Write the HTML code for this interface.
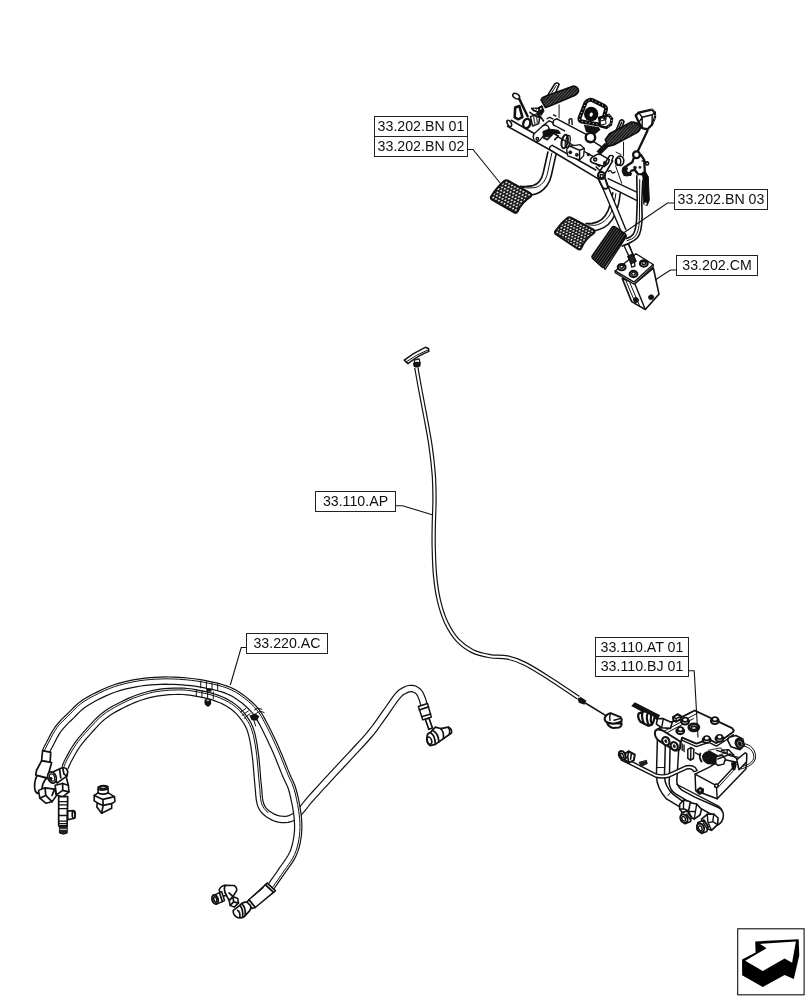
<!DOCTYPE html>
<html>
<head>
<meta charset="utf-8">
<title>Parts diagram</title>
<style>
html,body{margin:0;padding:0;background:#fff;}
body{width:812px;height:1000px;overflow:hidden;position:relative;font-family:"Liberation Sans",sans-serif;}
svg{position:absolute;left:0;top:0;display:block;}
.lbl{will-change:transform;position:absolute;box-sizing:border-box;border:1px solid #222;background:#fff;color:#111;font-family:"Liberation Sans",sans-serif;font-size:14.2px;line-height:18px;text-align:center;white-space:nowrap;padding:0;}
.s{fill:none;stroke:#111;stroke-width:1.4;stroke-linecap:round;stroke-linejoin:round;}
.t{fill:none;stroke:#111;stroke-width:1;stroke-linecap:round;stroke-linejoin:round;}
.w{fill:#fff;stroke:#111;stroke-width:1.4;stroke-linecap:round;stroke-linejoin:round;}
.k{fill:#111;stroke:#111;stroke-width:0.6;stroke-linejoin:round;}
.ns *{vector-effect:non-scaling-stroke;}
.hf .w,.hf .s{stroke-width:1.7;}
.ld{fill:none;stroke:#111;stroke-width:1.1;}
</style>
</head>
<body>
<svg width="812" height="1000" viewBox="0 0 812 1000">
<!-- PEDALS -->
<g id="pedals">
<defs>
<pattern id="padA" width="1" height="2" patternUnits="userSpaceOnUse" patternTransform="matrix(2.83,1.57,-2.2,2.54,506.1,180.2)">
<rect width="1" height="2" fill="#151515"/><circle cx="0.5" cy="0.5" r="0.31" fill="#fff"/><circle cx="0" cy="1.5" r="0.31" fill="#fff"/><circle cx="1" cy="1.5" r="0.31" fill="#fff"/>
</pattern>
<pattern id="padB" width="1" height="2" patternUnits="userSpaceOnUse" patternTransform="matrix(2.83,1.51,-2.04,2.2,569.2,217.2)">
<rect width="1" height="2" fill="#151515"/><circle cx="0.5" cy="0.5" r="0.31" fill="#fff"/><circle cx="0" cy="1.5" r="0.31" fill="#fff"/><circle cx="1" cy="1.5" r="0.31" fill="#fff"/>
</pattern>
<pattern id="padC" width="1.5" height="10" patternUnits="userSpaceOnUse" patternTransform="matrix(1.24,0.81,-2.24,3.29,613.4,226.5)">
<rect width="1.5" height="10" fill="#0c0c0c"/><rect x="0" width="0.35" height="10" fill="#777"/>
</pattern>
<pattern id="coil" width="11" height="30" patternUnits="userSpaceOnUse" patternTransform="rotate(-24)">
<rect width="11" height="30" fill="#0c0c0c"/><rect width="2.6" height="30" fill="#a8a8a8"/>
</pattern>
</defs>
<!-- G1 : origin 500,75 -->
<g transform="translate(500,75) scale(0.12438)" class="ns">
<!-- front tube A -->
<path class="s" d="M60,412 L400,601 L790,835" style="stroke-width:1.6"/>
<path class="s" d="M90,364 L275,470" style="stroke-width:1.6"/>
<ellipse class="w" cx="75" cy="389" rx="15" ry="28" transform="rotate(-30 75 389)" style="stroke-width:1.6"/>
<!-- tube B collar and top edge -->
<path class="s" d="M420,566 L770,764" style="stroke-width:1.5"/>
<path class="s" d="M420,566 Q395,572 398,600"/>
<!-- rear tube -->
<path class="s" d="M457,352 L700,482"/>
<path class="s" d="M432,402 L520,450"/>
<path class="s" d="M457,352 Q430,355 425,380 Q422,400 440,408" style="stroke-width:1.3"/>
<path class="s" d="M470,500 L812,690"/>
<!-- connector top-left -->
<ellipse class="w" cx="130" cy="170" rx="30" ry="19" transform="rotate(32 130 170)" style="stroke-width:1.5"/>
<path class="s" d="M155,192 L222,332" style="stroke-width:2.4"/>
<path class="w" d="M122,262 L156,250 L180,338 L146,356 L118,340 Z" style="stroke-width:2.6"/>
<ellipse class="s" cx="215" cy="390" rx="28" ry="38" transform="rotate(15 215 390)" style="stroke-width:2.4"/><path class="w" d="M245,335 L300,312 L318,345 L312,390 L262,410 Z" style="stroke-width:1.5"/><path class="s" d="M268,328 L282,400 M290,318 L302,392" style="stroke:#555"/>
<!-- spring 1 -->
<path d="M365,262 L330,200 Q335,180 360,172 L590,88 Q625,90 632,125 Q630,150 600,165 L400,250 Z" fill="url(#coil)" stroke="#0c0c0c" stroke-width="1.6"/>
<path class="s" d="M385,160 L440,72 Q460,55 475,75 L450,135" style="stroke-width:1.6"/>
<path class="s" d="M405,160 L452,85" style="stroke-width:1"/>
<!-- bracket blob under spring -->
<path d="M250,266 L300,266 L338,246 L354,290 L332,324 L300,298 L266,288 Z" fill="#111" stroke="#111"/><circle cx="300" cy="282" r="8" fill="#fff"/><circle cx="328" cy="272" r="7" fill="#fff"/><path d="M272,272 L290,280" stroke="#fff" stroke-width="1" fill="none"/>
<path class="s" d="M240,300 L275,325 L330,345 M300,300 L350,370" style="stroke-width:1.6"/>
<path class="t" d="M475,240 L475,345"/>
<path class="s" d="M378,352 L398,340 L425,352 M430,320 L450,330" style="stroke-width:1.3"/>
<!-- pin -->
<path class="s" d="M556,392 L556,358 Q566,348 578,355 L580,398"/>
<!-- link plate -->
<path class="w" d="M268,505 Q262,480 285,462 L345,408 Q365,395 385,410 L395,430 L325,520 Q300,545 275,528 Z" style="stroke-width:1.3"/>
<circle class="s" cx="300" cy="512" r="10"/>
<path class="s" d="M345,408 L395,368 L430,385"/>
<!-- clip cluster -->
<path d="M345,455 L395,435 L470,445 L485,470 L430,468 L395,495 L350,500 Z" fill="#111" stroke="#111"/>
<path class="s" d="M350,505 L380,520 L420,480 M430,470 L470,490 L440,520" style="stroke-width:1.6"/>
<!-- clamp ring -->
<ellipse class="s" cx="520" cy="535" rx="24" ry="55" transform="rotate(12 520 535)" style="stroke-width:2"/>
<ellipse class="s" cx="545" cy="535" rx="18" ry="50" transform="rotate(12 545 535)" style="stroke-width:1.3"/>
<!-- small box -->
<path class="w" d="M535,598 L560,572 L645,560 L678,590 L672,650 L640,682 L545,650 Z" style="stroke-width:1.3"/>
<path class="s" d="M560,572 L640,605 L678,590 M640,605 L640,682"/>
<circle class="k" cx="565" cy="622" r="13"/><circle class="k" cx="618" cy="642" r="13"/>
<circle class="k" cx="710" cy="640" r="11"/>
<circle class="s" cx="770" cy="672" r="20" style="stroke-width:1.8"/><circle class="k" cx="770" cy="672" r="7"/>
<path class="s" d="M730,690 L800,735" style="stroke-width:1.5"/>
</g>
<!-- G2 : origin 580,75 -->
<g transform="translate(580,75) scale(0.12438)" class="ns">
<!-- sensor -->
<path d="M72,202 Q86,195 100,202 L196,250 Q214,262 208,280 L182,380 Q174,402 152,398 L14,374 Q-8,366 -4,346 L44,224 Q54,205 72,202 Z" fill="#fff" stroke="#0c0c0c" stroke-width="4"/>
<path d="M72,202 Q86,195 100,202 L196,250 Q214,262 208,280 L182,380 Q174,402 152,398 L14,374 Q-8,366 -4,346 L44,224 Q54,205 72,202 Z" fill="none" stroke="#fff" stroke-width="1" stroke-dasharray="0.1 3.6" stroke-linecap="round"/>
<circle cx="90" cy="314" r="58" fill="#0c0c0c"/><ellipse cx="90" cy="318" rx="13" ry="17" fill="#fff" transform="rotate(20 90 318)"/>
<path d="M155,345 L230,322 L256,352 L248,398 L212,424 L166,412 Z" fill="#fff" stroke="#0c0c0c" stroke-width="2.8"/>
<path d="M230,322 L256,352 L248,398 L212,424" fill="none" stroke="#fff" stroke-width="0.9" stroke-dasharray="0.1 3.2" stroke-linecap="round"/>
<path d="M160,372 L205,360 L210,392 L168,404Z" fill="#fff" stroke="#0c0c0c" stroke-width="1"/>
<rect x="186" y="332" width="28" height="28" fill="#111"/>
<path d="M30,398 L150,418 L165,440 L125,474 L48,458 Z" fill="#111"/>
<path d="M30,398 L150,418" fill="none" stroke="#fff" stroke-width="0.8" stroke-dasharray="0.1 3" stroke-linecap="round"/>
<circle cx="84" cy="503" r="38" class="w" style="stroke-width:2.4"/>
<path class="s" d="M62,530 L100,540"/>
<path class="s" d="M112,538 L175,578"/>
<!-- spring 2 -->
<path d="M203,520 L238,472 L412,378 Q465,378 488,418 Q484,450 455,465 L272,562 L225,574 Z" fill="url(#coil)" stroke="#0c0c0c" stroke-width="1.6"/>
<path class="s" d="M290,447 L322,368 Q340,350 354,375 L335,425" style="stroke-width:1.6"/>
<path class="s" d="M308,440 L335,380"/>
<path d="M200,545 L235,572 L165,642 L132,616 Z" fill="#111"/>
<!-- switch -->
<path class="w" d="M448,325 L472,302 L578,278 L602,302 L603,340 L578,400 L540,438 L502,427 L473,383 Z" style="stroke-width:2.3"/><path d="M578,278 L602,302 L603,340 L578,400" fill="none" stroke="#fff" stroke-width="0.9" stroke-dasharray="0.1 3.4" stroke-linecap="round"/>
<path class="s" d="M470,385 L500,340 L580,320 L605,300 M500,340 L500,430 M580,320 L580,402"/>
<path class="s" d="M470,300 L500,340" />
<!-- link rod -->
<path class="s" d="M543,446 L462,618" style="stroke-width:2.3"/>
<!-- bracket -->
<path class="w" d="M432,668 L420,702 L352,745 Q335,772 357,802 L382,806 L402,772 L440,762 L470,802 L522,792 L516,682 L490,642 Z" style="stroke-width:2.3"/>
<circle class="w" cx="454" cy="641" r="27" style="stroke-width:2.3"/>
<path d="M345,750 Q340,800 372,812 L410,812 L420,790 L395,770 L380,740 Z" fill="#111"/>
<circle cx="392" cy="768" r="12" fill="#fff"/>
<circle cx="442" cy="745" r="12" class="k"/><circle cx="482" cy="742" r="9" class="k"/>
<circle cx="540" cy="712" r="12" class="s" style="stroke-width:1.5"/>
<path class="s" d="M500,690 L545,700"/>
<!-- plate left -->
<path class="w" d="M85,692 Q80,670 100,660 L135,640 Q150,632 167,640 L236,680 L228,706 L195,736 L100,706 Z" style="stroke-width:1.6"/>
<circle cx="122" cy="680" r="12" class="s" style="stroke-width:1.6"/>
<circle cx="200" cy="707" r="13" class="k"/>
<!-- pivot boss -->
<ellipse class="w" cx="322" cy="690" rx="30" ry="38" style="stroke-width:1.6"/>
<ellipse class="s" cx="306" cy="696" rx="22" ry="30"/>
<path class="t" d="M290,620 L330,640 M350,540 L350,652"/>
<path class="s" d="M238,650 Q255,640 268,655 L255,690" style="stroke-width:1.4"/>
<!-- link to pivot -->
<path class="s" d="M150,790 L236,652 M197,802 L262,690" style="stroke-width:1.6"/>
<path class="s" d="M228,775 Q245,760 255,780 Q265,795 282,780" />
<path class="t" d="M286,730 L335,870"/>
<path class="s" d="M130,740 L160,770" style="stroke-width:1.5"/>
</g>
<!-- arm 1 (real coords) -->
<path class="s" style="stroke-width:1.6" d="M547.9,152 L543.2,173 C541.8,179 538.5,184 533,185.6 C529,186.6 525,186.6 520.5,186.2"/>
<path class="t" d="M551.8,153.2 L547.2,174.5 C545.5,181 541,186 536,187.3 C531,188.4 527,188 522.3,187.4"/>
<path class="s" style="stroke-width:1.6" d="M556,154.6 L551.2,176 C549.5,183 545,189 539.7,192.2 C537,193.8 534,194.6 531.6,194.9"/>
<!-- G5 : origin 540,150 -->
<g transform="translate(540,150) scale(0.12438)" class="ns">
<path class="s" d="M548,230 L778,338 M533,282 L776,405"/>
<!-- arm 2 -->
<path class="s" style="stroke-width:1.6" d="M585,345 C578,400 565,445 548,485 C525,540 480,580 420,590 L370,592"/>
<path class="t" d="M610,350 C603,410 590,455 572,500 C548,555 500,595 440,606 L390,602"/>
<path class="s" style="stroke-width:1.6" d="M645,350 C637,420 625,470 605,515 C580,575 530,625 470,642 L440,650"/>
<!-- accelerator rod -->
<path d="M478,250 L510,320 L652,655 L690,640 L550,300 L528,238 Z" fill="#fff" stroke="none"/><path class="s" d="M478,250 L510,320 L652,655 M528,238 L550,300 L690,640"/>
<path class="s" d="M682,770 L716,852 M716,762 L748,842"/>
<!-- pivot -->
<circle class="w" cx="494" cy="205" r="28" style="stroke-width:2.2"/>
<circle class="s" cx="496" cy="210" r="13"/>
<path class="s" d="M468,230 L505,302 Q525,322 547,302 L522,225" style="stroke-width:1.8"/>
</g>
<!-- G3 : origin 580,199 -->
<g transform="translate(580,199) scale(0.12438)" class="ns">
<!-- cylinder body -->
<path class="w" d="M340,640 L415,825 L525,888 L635,765 L590,555 L440,680 Z" style="stroke-width:1.6"/>
<path class="s" d="M440,680 L525,888"/>
<path class="t" d="M370,660 L450,848 M400,672 L482,865"/>
<ellipse cx="450" cy="812" rx="22" ry="20" class="k" transform="rotate(30 450 812)"/>
<ellipse cx="572" cy="790" rx="22" ry="20" class="k" transform="rotate(-20 572 790)"/>
<!-- top plate -->
<path class="w" d="M283,578 L283,592 L435,685 L588,545 L588,527 L450,440 Z" style="stroke-width:1.3"/>
<path class="s" d="M283,578 L435,668 L588,527"/>
<g style="stroke-width:1.5">
<ellipse class="w" cx="335" cy="548" rx="31" ry="25" style="stroke-width:2.2"/><ellipse class="s" cx="335" cy="545" rx="15" ry="12"/>
<ellipse class="w" cx="430" cy="603" rx="31" ry="25" style="stroke-width:2.2"/><ellipse class="s" cx="430" cy="600" rx="15" ry="12"/>
<ellipse class="w" cx="513" cy="518" rx="31" ry="25" style="stroke-width:2.2"/><ellipse class="s" cx="513" cy="515" rx="15" ry="12"/>
</g>
<!-- fitting on rod -->
<path class="w" d="M352,372 L398,468 L428,455 L388,362 Z" style="stroke-width:1.3"/>
<path d="M385,462 L425,442 L450,500 L410,520 Z" fill="#222" stroke="#111" stroke-width="1.4"/>
<path class="w" d="M410,520 L416,548 L442,540 L438,508 Z" style="stroke-width:1.3"/>
<!-- pad3 side -->
<path class="s" d="M365,285 L372,302 L202,566 L195,550"/>
</g>
<!-- G6 : origin 590,150 -->
<g transform="translate(590,150) scale(0.12562)" class="ns">
<!-- right arm -->
<path class="w" d="M372,205 L376,420 L372,517 Q370,600 343,673 L295,704 L250,764 L331,733 Q395,700 406,638 L415,530 L412,420 L420,245 L400,200 Z" style="stroke:none"/>
<path class="s" d="M372,205 L376,420 L372,517 Q372,620 343,673 Q325,695 290,704" style="stroke-width:1.6"/>
<path class="t" d="M396,235 L393,560 Q390,650 358,690 Q335,712 295,722"/>
<path class="s" d="M420,245 L412,420 L415,530 Q412,660 379,697 Q345,735 255,764" style="stroke-width:1.6"/>
<!-- damper -->
<path d="M418,178 L440,172 L464,212 L472,400 L455,442 L428,432 L424,250 Z" fill="#0c0c0c" stroke="#0c0c0c"/>
<circle cx="442" cy="428" r="10" fill="#fff"/>
</g>
<!-- pads in real coords -->
<path d="M508,180.6 L529.8,192.9 Q532.4,194.4 531,196.4 Q521.5,202.5 517.6,211.6 Q516.2,213.8 514,212.4 L492,199.7 Q489.8,198.2 491.2,196.2 Q497,187 504.4,180.8 Q506,179.5 508,180.6 Z" fill="url(#padA)" stroke="#111" stroke-width="1.9"/>
<path d="M571,217.6 L593,229.4 Q595.6,230.9 594.2,233 Q585,239 581.3,248.2 Q580,250.4 577.8,249 L556.2,234.4 Q554,232.9 555.5,230.9 Q561,223 567.5,217.8 Q569,216.5 571,217.6 Z" fill="url(#padB)" stroke="#111" stroke-width="1.9"/>
<path d="M614.6,226.6 L625,233.4 Q626.6,234.6 625.6,236.4 L604.8,266.6 Q603.6,268.2 601.8,267 L592.6,258.6 Q591.2,257.2 592.4,255.4 L612,227.2 Q613.2,225.8 614.6,226.6 Z" fill="url(#padC)" stroke="#0c0c0c" stroke-width="1.2"/>
</g>
<!-- CABLE -->
<g id="cable">
<path d="M416.3,367.5 C416.9,370.9 418.4,379.6 419.9,387.8 C421.4,396.0 423.6,407.1 425.4,416.7 C427.2,426.3 429.1,435.9 430.5,445.6 C431.9,455.3 433.1,465.9 433.8,475.0 C434.4,484.1 434.5,491.7 434.5,500.0 C434.5,508.3 433.9,516.7 433.8,525.0 C433.6,533.3 433.5,541.7 433.8,550.0 C434.0,558.3 434.2,566.7 435.0,575.0 C435.8,583.3 436.9,592.1 438.8,600.0 C440.6,607.9 443.1,615.8 446.2,622.5 C449.4,629.2 453.1,635.2 457.5,640.0 C461.9,644.8 467.1,648.5 472.5,651.2 C477.9,654.0 484.2,655.2 490.0,656.2 C495.8,657.3 501.7,656.2 507.5,657.5 C513.3,658.8 517.9,660.2 525.0,663.8 C532.1,667.3 541.1,673.1 550.0,678.8 C558.9,684.4 573.8,694.6 578.5,697.8" fill="none" stroke="#111" stroke-width="4.4"/>
<path d="M416.3,367.5 C416.9,370.9 418.4,379.6 419.9,387.8 C421.4,396.0 423.6,407.1 425.4,416.7 C427.2,426.3 429.1,435.9 430.5,445.6 C431.9,455.3 433.1,465.9 433.8,475.0 C434.4,484.1 434.5,491.7 434.5,500.0 C434.5,508.3 433.9,516.7 433.8,525.0 C433.6,533.3 433.5,541.7 433.8,550.0 C434.0,558.3 434.2,566.7 435.0,575.0 C435.8,583.3 436.9,592.1 438.8,600.0 C440.6,607.9 443.1,615.8 446.2,622.5 C449.4,629.2 453.1,635.2 457.5,640.0 C461.9,644.8 467.1,648.5 472.5,651.2 C477.9,654.0 484.2,655.2 490.0,656.2 C495.8,657.3 501.7,656.2 507.5,657.5 C513.3,658.8 517.9,660.2 525.0,663.8 C532.1,667.3 541.1,673.1 550.0,678.8 C558.9,684.4 573.8,694.6 578.5,697.8" fill="none" stroke="#fff" stroke-width="2"/>
<!-- handle : tile origin 380,335 -->
<g transform="translate(380,335) scale(0.12562)" class="ns">
<path class="w" d="M272,200 L312,190 L318,222 L278,232 Z" style="stroke-width:1.2"/>
<path d="M262,222 Q290,208 325,218 L322,250 Q290,262 268,252 Z" fill="#111"/>
<path class="w" d="M193,200 Q270,140 360,98 L386,108 L389,130 Q300,165 222,228 Z" style="stroke-width:1.5"/>
<path class="t" d="M208,214 Q290,156 378,120"/>
</g>
<!-- cable end : tile origin 560,680 -->
<g transform="translate(560,680) scale(0.12562)" class="ns">
<path d="M140,150 L165,135 L210,165 L195,198 L150,182 Z" fill="#111"/>
<path class="s" d="M205,185 L372,287" style="stroke-width:1.5"/>
<path class="w" d="M356,302 Q366,272 402,264 L482,296 Q494,308 490,330 L442,346 Q400,352 372,336 Q352,322 356,302 Z" style="stroke-width:2"/>
<path class="w" d="M374,338 Q380,368 422,382 L472,378 Q494,366 490,344 L442,346 Q400,352 374,338Z" style="stroke-width:2"/>
<path class="s" d="M402,264 Q392,290 398,322 M430,320 L486,306" style="stroke-width:1.4"/>
</g>
</g>
<!-- HOSES -->
<g id="hoses" class="hf">
<!-- hose B -->
<path d="M62.0,766.6 L62.4,765.7 L62.8,764.5 L63.5,762.9 L64.3,760.9 L65.5,758.7 L66.9,756.1 L68.5,753.1 L70.4,749.8 L72.4,746.5 L74.5,743.4 L76.5,740.6 L78.6,737.9 L80.8,735.3 L83.1,732.7 L85.6,729.9 L88.4,726.7 L91.5,723.4 L94.7,719.9 L98.2,716.5 L101.8,713.4 L105.6,710.6 L109.5,708.1 L113.4,705.8 L117.4,703.7 L121.3,701.7 L125.1,699.9 L128.9,698.1 L132.8,696.5 L136.6,695.0 L140.5,693.7 L144.3,692.5 L148.1,691.5 L151.9,690.6 L155.9,689.8 L160.0,689.2 L164.4,688.7 L169.0,688.3 L173.8,688.1 L178.5,688.0 L183.2,688.1 L187.7,688.5 L192.2,689.0 L196.6,689.8 L200.7,690.6 L204.6,691.4 L208.2,692.2 L211.5,693.1 L214.7,694.0 L217.8,695.1 L220.8,696.2 L223.8,697.5 L226.6,698.9 L229.4,700.4 L232.1,702.1 L234.7,703.9 L237.2,705.9 L239.6,708.0 L241.8,710.3 L244.0,712.7 L246.0,715.3 L247.8,717.9 L249.6,720.6 L251.2,723.5 L252.7,726.9 L254.1,730.6 L255.2,734.9 L256.2,739.6 L257.1,744.6 L257.8,749.8 L258.6,755.1 L259.2,760.9 L259.8,767.0 L260.3,773.3 L260.7,779.3 L261.3,784.7 L261.8,789.7 L262.1,794.3 L262.5,798.5 L263.2,802.0 L264.2,804.9 L265.6,807.3 L267.4,809.4 L269.6,811.3 L272.0,812.8 L274.4,814.1 L276.8,815.1 L279.4,815.8 L282.1,816.2 L284.7,816.3 L287.0,816.1 L288.9,815.6 L290.7,814.8 L292.5,813.7 L294.5,812.2 L296.6,810.4 L298.7,808.3 L300.6,805.9 L302.9,803.0 L305.6,799.6 L309.0,795.6 L313.2,791.0 L317.9,785.8 L323.1,780.2 L328.5,774.3 L334.2,768.2 L340.3,761.6 L347.1,754.4 L353.9,747.0 L360.3,740.2 L365.5,734.3 L369.3,729.7 L372.2,726.0 L374.5,722.8 L376.8,719.6 L379.4,715.9 L382.4,711.7 L385.7,707.0 L388.9,702.4 L391.9,698.1 L394.5,694.7 L396.6,692.2 L398.4,690.5 L400.1,689.3 L401.5,688.4 L403.0,687.6 L404.7,686.7 L406.6,686.0 L408.5,685.5 L410.4,685.3 L412.3,685.3 L414.2,685.7 L416.1,686.3 L417.8,687.2 L419.3,688.2 L420.8,689.5 L422.0,691.0 L423.0,692.6 L423.8,694.2 L424.4,695.7 L425.0,697.2 L425.6,698.7 L426.1,700.4 L426.5,702.0 L426.8,703.3 L427.1,704.2 L420.9,705.8 L420.7,704.9 L420.3,703.6 L419.9,702.2 L419.5,700.8 L419.0,699.4 L418.5,698.1 L417.9,696.8 L417.4,695.6 L416.8,694.6 L416.2,693.9 L415.5,693.3 L414.6,692.7 L413.6,692.2 L412.6,691.9 L411.7,691.7 L410.8,691.7 L409.7,691.8 L408.5,692.1 L407.3,692.6 L406.0,693.2 L404.7,693.9 L403.7,694.5 L402.7,695.3 L401.3,696.6 L399.5,698.7 L397.0,701.9 L394.1,706.0 L390.9,710.6 L387.7,715.3 L384.6,719.7 L382.0,723.3 L379.7,726.5 L377.3,729.9 L374.3,733.8 L370.3,738.5 L365.0,744.5 L358.6,751.4 L351.8,758.7 L345.0,766.0 L338.8,772.6 L333.2,778.7 L327.8,784.6 L322.6,790.2 L317.9,795.3 L313.8,799.8 L310.5,803.7 L307.9,807.0 L305.6,809.9 L303.4,812.6 L301.0,815.0 L298.5,817.2 L296.2,819.0 L293.7,820.5 L291.0,821.7 L288.0,822.4 L284.8,822.7 L281.5,822.6 L278.1,822.1 L274.8,821.2 L271.6,819.9 L268.7,818.3 L265.8,816.4 L263.0,814.0 L260.4,811.1 L258.3,807.6 L257.0,803.6 L256.2,799.3 L255.7,794.9 L255.4,790.2 L254.9,785.3 L254.4,779.8 L253.9,773.8 L253.4,767.6 L252.9,761.5 L252.2,755.9 L251.5,750.7 L250.8,745.6 L249.9,740.8 L249.0,736.4 L247.9,732.6 L246.8,729.2 L245.5,726.4 L244.1,723.9 L242.5,721.5 L240.8,719.1 L239.0,716.8 L237.2,714.7 L235.2,712.7 L233.1,710.8 L230.9,709.1 L228.6,707.4 L226.2,706.0 L223.7,704.6 L221.1,703.3 L218.4,702.2 L215.6,701.1 L212.8,700.1 L209.8,699.2 L206.7,698.4 L203.2,697.6 L199.4,696.8 L195.4,696.1 L191.3,695.4 L187.0,694.8 L182.8,694.5 L178.5,694.4 L174.0,694.5 L169.5,694.7 L165.0,695.1 L160.8,695.6 L156.9,696.2 L153.2,696.8 L149.7,697.7 L146.1,698.6 L142.5,699.7 L138.8,701.0 L135.2,702.4 L131.5,704.0 L127.8,705.6 L124.1,707.5 L120.4,709.4 L116.6,711.4 L112.8,713.6 L109.2,715.9 L105.8,718.4 L102.5,721.2 L99.3,724.4 L96.2,727.7 L93.2,731.0 L90.4,734.1 L87.9,736.9 L85.6,739.5 L83.6,741.9 L81.6,744.4 L79.7,747.0 L77.8,749.9 L75.9,753.0 L74.1,756.2 L72.5,759.2 L71.1,761.7 L70.1,763.7 L69.4,765.4 L68.8,766.8 L68.3,768.0 L68.0,769.0 Z" fill="#fff" stroke="none"/>
<path d="M62.0,766.6 L62.4,765.7 L62.8,764.5 L63.5,762.9 L64.3,760.9 L65.5,758.7 L66.9,756.1 L68.5,753.1 L70.4,749.8 L72.4,746.5 L74.5,743.4 L76.5,740.6 L78.6,737.9 L80.8,735.3 L83.1,732.7 L85.6,729.9 L88.4,726.7 L91.5,723.4 L94.7,719.9 L98.2,716.5 L101.8,713.4 L105.6,710.6 L109.5,708.1 L113.4,705.8 L117.4,703.7 L121.3,701.7 L125.1,699.9 L128.9,698.1 L132.8,696.5 L136.6,695.0 L140.5,693.7 L144.3,692.5 L148.1,691.5 L151.9,690.6 L155.9,689.8 L160.0,689.2 L164.4,688.7 L169.0,688.3 L173.8,688.1 L178.5,688.0 L183.2,688.1 L187.7,688.5 L192.2,689.0 L196.6,689.8 L200.7,690.6 L204.6,691.4 L208.2,692.2 L211.5,693.1 L214.7,694.0 L217.8,695.1 L220.8,696.2 L223.8,697.5 L226.6,698.9 L229.4,700.4 L232.1,702.1 L234.7,703.9 L237.2,705.9 L239.6,708.0 L241.8,710.3 L244.0,712.7 L246.0,715.3 L247.8,717.9 L249.6,720.6 L251.2,723.5 L252.7,726.9 L254.1,730.6 L255.2,734.9 L256.2,739.6 L257.1,744.6 L257.8,749.8 L258.6,755.1 L259.2,760.9 L259.8,767.0 L260.3,773.3 L260.7,779.3 L261.3,784.7 L261.8,789.7 L262.1,794.3 L262.5,798.5 L263.2,802.0 L264.2,804.9 L265.6,807.3 L267.4,809.4 L269.6,811.3 L272.0,812.8 L274.4,814.1 L276.8,815.1 L279.4,815.8 L282.1,816.2 L284.7,816.3 L287.0,816.1 L288.9,815.6 L290.7,814.8 L292.5,813.7 L294.5,812.2 L296.6,810.4 L298.7,808.3 L300.6,805.9 L302.9,803.0 L305.6,799.6 L309.0,795.6 L313.2,791.0 L317.9,785.8 L323.1,780.2 L328.5,774.3 L334.2,768.2 L340.3,761.6 L347.1,754.4 L353.9,747.0 L360.3,740.2 L365.5,734.3 L369.3,729.7 L372.2,726.0 L374.5,722.8 L376.8,719.6 L379.4,715.9 L382.4,711.7 L385.7,707.0 L388.9,702.4 L391.9,698.1 L394.5,694.7 L396.6,692.2 L398.4,690.5 L400.1,689.3 L401.5,688.4 L403.0,687.6 L404.7,686.7 L406.6,686.0 L408.5,685.5 L410.4,685.3 L412.3,685.3 L414.2,685.7 L416.1,686.3 L417.8,687.2 L419.3,688.2 L420.8,689.5 L422.0,691.0 L423.0,692.6 L423.8,694.2 L424.4,695.7 L425.0,697.2 L425.6,698.7 L426.1,700.4 L426.5,702.0 L426.8,703.3 L427.1,704.2" fill="none" stroke="#111" stroke-width="1.2"/>
<path d="M68.0,769.0 L68.3,768.0 L68.8,766.8 L69.4,765.4 L70.1,763.7 L71.1,761.7 L72.5,759.2 L74.1,756.2 L75.9,753.0 L77.8,749.9 L79.7,747.0 L81.6,744.4 L83.6,741.9 L85.6,739.5 L87.9,736.9 L90.4,734.1 L93.2,731.0 L96.2,727.7 L99.3,724.4 L102.5,721.2 L105.8,718.4 L109.2,715.9 L112.8,713.6 L116.6,711.4 L120.4,709.4 L124.1,707.5 L127.8,705.6 L131.5,704.0 L135.2,702.4 L138.8,701.0 L142.5,699.7 L146.1,698.6 L149.7,697.7 L153.2,696.8 L156.9,696.2 L160.8,695.6 L165.0,695.1 L169.5,694.7 L174.0,694.5 L178.5,694.4 L182.8,694.5 L187.0,694.8 L191.3,695.4 L195.4,696.1 L199.4,696.8 L203.2,697.6 L206.7,698.4 L209.8,699.2 L212.8,700.1 L215.6,701.1 L218.4,702.2 L221.1,703.3 L223.7,704.6 L226.2,706.0 L228.6,707.4 L230.9,709.1 L233.1,710.8 L235.2,712.7 L237.2,714.7 L239.0,716.8 L240.8,719.1 L242.5,721.5 L244.1,723.9 L245.5,726.4 L246.8,729.2 L247.9,732.6 L249.0,736.4 L249.9,740.8 L250.8,745.6 L251.5,750.7 L252.2,755.9 L252.9,761.5 L253.4,767.6 L253.9,773.8 L254.4,779.8 L254.9,785.3 L255.4,790.2 L255.7,794.9 L256.2,799.3 L257.0,803.6 L258.3,807.6 L260.4,811.1 L263.0,814.0 L265.8,816.4 L268.7,818.3 L271.6,819.9 L274.8,821.2 L278.1,822.1 L281.5,822.6 L284.8,822.7 L288.0,822.4 L291.0,821.7 L293.7,820.5 L296.2,819.0 L298.5,817.2 L301.0,815.0 L303.4,812.6 L305.6,809.9 L307.9,807.0 L310.5,803.7 L313.8,799.8 L317.9,795.3 L322.6,790.2 L327.8,784.6 L333.2,778.7 L338.8,772.6 L345.0,766.0 L351.8,758.7 L358.6,751.4 L365.0,744.5 L370.3,738.5 L374.3,733.8 L377.3,729.9 L379.7,726.5 L382.0,723.3 L384.6,719.7 L387.7,715.3 L390.9,710.6 L394.1,706.0 L397.0,701.9 L399.5,698.7 L401.3,696.6 L402.7,695.3 L403.7,694.5 L404.7,693.9 L406.0,693.2 L407.3,692.6 L408.5,692.1 L409.7,691.8 L410.8,691.7 L411.7,691.7 L412.6,691.9 L413.6,692.2 L414.6,692.7 L415.5,693.3 L416.2,693.9 L416.8,694.6 L417.4,695.6 L417.9,696.8 L418.5,698.1 L419.0,699.4 L419.5,700.8 L419.9,702.2 L420.3,703.6 L420.7,704.9 L420.9,705.8" fill="none" stroke="#111" stroke-width="1.2"/>
<path d="M63.8,767.3 L64.1,766.4 L64.6,765.2 L65.2,763.6 L66.1,761.8 L67.1,759.6 L68.5,757.0 L70.2,754.0 L72.0,750.8 L74.0,747.5 L76.0,744.5 L78.0,741.7 L80.1,739.1 L82.2,736.6 L84.5,733.9 L87.0,731.1 L89.8,728.0 L92.9,724.7 L96.1,721.2 L99.5,717.9 L103.0,714.9 L106.6,712.2 L110.5,709.8 L114.4,707.5 L118.3,705.4 L122.1,703.4 L125.9,701.6 L129.7,699.8 L133.5,698.2 L137.3,696.8 L141.1,695.5 L144.9,694.3 L148.6,693.3 L152.3,692.4 L156.2,691.7 L160.2,691.1 L164.6,690.6 L169.2,690.2 L173.9,690.0 L178.5,689.9 L183.1,690.0 L187.5,690.3 L191.9,690.9 L196.2,691.6 L200.3,692.4 L204.2,693.2 L207.7,694.0 L211.0,694.9 L214.1,695.8 L217.1,696.8 L220.1,698.0 L223.0,699.3 L225.8,700.6 L228.5,702.1 L231.1,703.7 L233.6,705.5 L236.0,707.4 L238.3,709.4 L240.4,711.6 L242.5,713.9 L244.4,716.4 L246.2,719.0 L247.9,721.6 L249.5,724.4 L250.9,727.6 L252.2,731.2 L253.4,735.4 L254.3,740.0 L255.2,744.9 L256.0,750.0 L256.7,755.3 L257.3,761.0 L257.9,767.2 L258.4,773.4 L258.9,779.4 L259.4,784.9 L259.9,789.8 L260.2,794.5 L260.6,798.7 L261.3,802.5 L262.4,805.7 L264.1,808.4 L266.1,810.8 L268.5,812.8" fill="none" stroke="#111" stroke-width="1"/>
<!-- hose A -->
<path d="M42.4,750.4 L42.9,749.5 L43.4,748.3 L44.2,746.8 L45.1,745.0 L46.3,742.8 L47.6,740.2 L49.2,737.0 L51.0,733.6 L53.1,730.0 L55.4,726.6 L57.9,723.5 L60.6,720.5 L63.4,717.7 L66.2,715.0 L68.9,712.4 L71.4,709.9 L73.7,707.5 L76.3,705.0 L79.3,702.4 L83.0,699.8 L87.4,697.1 L92.5,694.3 L97.9,691.6 L103.4,689.0 L108.8,686.7 L114.0,684.8 L119.2,683.2 L124.3,681.8 L129.5,680.6 L134.6,679.6 L139.8,678.8 L145.1,678.1 L150.3,677.6 L155.3,677.3 L160.3,677.1 L165.1,676.9 L169.8,677.0 L174.4,677.1 L178.9,677.4 L183.3,677.7 L187.6,678.0 L191.8,678.5 L196.0,679.0 L200.3,679.6 L204.6,680.4 L209.1,681.3 L213.8,682.3 L218.5,683.4 L223.0,684.7 L227.1,686.1 L230.8,687.5 L234.1,689.1 L237.1,690.8 L240.1,692.7 L243.0,694.7 L246.2,697.1 L249.3,699.7 L252.4,702.5 L255.5,705.4 L258.2,708.6 L260.7,711.9 L262.8,715.2 L264.7,718.6 L266.6,722.2 L268.6,726.1 L270.9,730.5 L273.2,735.3 L275.6,740.3 L277.9,745.3 L280.0,750.2 L282.2,755.2 L284.2,760.3 L286.2,765.2 L288.0,769.9 L289.7,774.0 L291.1,777.2 L292.4,779.8 L293.6,782.4 L294.8,785.3 L296.0,789.0 L297.2,793.5 L298.4,798.7 L299.5,804.2 L300.4,809.6 L301.1,814.6 L301.6,819.0 L301.8,823.3 L301.9,827.4 L301.7,831.4 L301.4,835.4 L300.8,839.5 L300.1,843.5 L299.1,847.5 L297.8,851.4 L296.3,855.2 L294.5,858.9 L292.4,862.3 L290.1,865.6 L287.8,868.8 L285.5,872.1 L282.9,875.9 L279.9,880.2 L277.0,884.4 L274.5,888.0 L272.7,890.5 L266.7,886.3 L268.5,883.8 L271.0,880.2 L273.9,876.0 L276.9,871.8 L279.5,867.9 L281.9,864.5 L284.2,861.4 L286.3,858.3 L288.1,855.3 L289.7,852.3 L291.0,849.0 L292.0,845.5 L292.9,841.9 L293.6,838.3 L294.1,834.6 L294.5,830.9 L294.6,827.3 L294.5,823.6 L294.3,819.6 L293.9,815.4 L293.2,810.7 L292.3,805.5 L291.2,800.3 L290.1,795.3 L289.0,791.0 L288.0,787.8 L286.9,785.3 L285.8,783.0 L284.5,780.3 L282.9,776.8 L281.2,772.6 L279.4,767.9 L277.4,763.0 L275.4,758.0 L273.4,753.2 L271.2,748.3 L268.9,743.4 L266.6,738.4 L264.3,733.8 L262.2,729.5 L260.2,725.6 L258.3,722.1 L256.5,718.9 L254.7,716.0 L252.6,713.2 L250.1,710.4 L247.4,707.8 L244.6,705.2 L241.7,702.8 L238.8,700.7 L236.0,698.7 L233.4,697.1 L230.8,695.6 L227.9,694.2 L224.7,692.9 L220.9,691.7 L216.6,690.5 L212.1,689.4 L207.6,688.5 L203.2,687.6 L199.1,686.8 L195.0,686.2 L191.0,685.7 L186.9,685.3 L182.7,684.9 L178.4,684.6 L174.0,684.4 L169.6,684.3 L165.1,684.2 L160.5,684.3 L155.8,684.6 L150.8,684.9 L145.9,685.4 L140.9,686.0 L136.0,686.8 L131.0,687.8 L126.1,688.9 L121.2,690.2 L116.3,691.7 L111.4,693.5 L106.4,695.6 L101.1,698.1 L95.9,700.8 L91.1,703.4 L87.0,706.0 L83.8,708.2 L81.2,710.4 L78.9,712.6 L76.6,715.0 L74.1,717.6 L71.3,720.3 L68.5,722.9 L65.9,725.6 L63.4,728.3 L61.2,731.0 L59.3,733.9 L57.4,737.1 L55.7,740.4 L54.1,743.5 L52.7,746.2 L51.6,748.3 L50.7,750.1 L50.0,751.5 L49.4,752.7 L49.0,753.6 Z" fill="#fff" stroke="none"/>
<path d="M42.4,750.4 L42.9,749.5 L43.4,748.3 L44.2,746.8 L45.1,745.0 L46.3,742.8 L47.6,740.2 L49.2,737.0 L51.0,733.6 L53.1,730.0 L55.4,726.6 L57.9,723.5 L60.6,720.5 L63.4,717.7 L66.2,715.0 L68.9,712.4 L71.4,709.9 L73.7,707.5 L76.3,705.0 L79.3,702.4 L83.0,699.8 L87.4,697.1 L92.5,694.3 L97.9,691.6 L103.4,689.0 L108.8,686.7 L114.0,684.8 L119.2,683.2 L124.3,681.8 L129.5,680.6 L134.6,679.6 L139.8,678.8 L145.1,678.1 L150.3,677.6 L155.3,677.3 L160.3,677.1 L165.1,676.9 L169.8,677.0 L174.4,677.1 L178.9,677.4 L183.3,677.7 L187.6,678.0 L191.8,678.5 L196.0,679.0 L200.3,679.6 L204.6,680.4 L209.1,681.3 L213.8,682.3 L218.5,683.4 L223.0,684.7 L227.1,686.1 L230.8,687.5 L234.1,689.1 L237.1,690.8 L240.1,692.7 L243.0,694.7 L246.2,697.1 L249.3,699.7 L252.4,702.5 L255.5,705.4 L258.2,708.6 L260.7,711.9 L262.8,715.2 L264.7,718.6 L266.6,722.2 L268.6,726.1 L270.9,730.5 L273.2,735.3 L275.6,740.3 L277.9,745.3 L280.0,750.2 L282.2,755.2 L284.2,760.3 L286.2,765.2 L288.0,769.9 L289.7,774.0 L291.1,777.2 L292.4,779.8 L293.6,782.4 L294.8,785.3 L296.0,789.0 L297.2,793.5 L298.4,798.7 L299.5,804.2 L300.4,809.6 L301.1,814.6 L301.6,819.0 L301.8,823.3 L301.9,827.4 L301.7,831.4 L301.4,835.4 L300.8,839.5 L300.1,843.5 L299.1,847.5 L297.8,851.4 L296.3,855.2 L294.5,858.9 L292.4,862.3 L290.1,865.6 L287.8,868.8 L285.5,872.1 L282.9,875.9 L279.9,880.2 L277.0,884.4 L274.5,888.0 L272.7,890.5" fill="none" stroke="#111" stroke-width="1.2"/>
<path d="M49.0,753.6 L49.4,752.7 L50.0,751.5 L50.7,750.1 L51.6,748.3 L52.7,746.2 L54.1,743.5 L55.7,740.4 L57.4,737.1 L59.3,733.9 L61.2,731.0 L63.4,728.3 L65.9,725.6 L68.5,722.9 L71.3,720.3 L74.1,717.6 L76.6,715.0 L78.9,712.6 L81.2,710.4 L83.8,708.2 L87.0,706.0 L91.1,703.4 L95.9,700.8 L101.1,698.1 L106.4,695.6 L111.4,693.5 L116.3,691.7 L121.2,690.2 L126.1,688.9 L131.0,687.8 L136.0,686.8 L140.9,686.0 L145.9,685.4 L150.8,684.9 L155.8,684.6 L160.5,684.3 L165.1,684.2 L169.6,684.3 L174.0,684.4 L178.4,684.6 L182.7,684.9 L186.9,685.3 L191.0,685.7 L195.0,686.2 L199.1,686.8 L203.2,687.6 L207.6,688.5 L212.1,689.4 L216.6,690.5 L220.9,691.7 L224.7,692.9 L227.9,694.2 L230.8,695.6 L233.4,697.1 L236.0,698.7 L238.8,700.7 L241.7,702.8 L244.6,705.2 L247.4,707.8 L250.1,710.4 L252.6,713.2 L254.7,716.0 L256.5,718.9 L258.3,722.1 L260.2,725.6 L262.2,729.5 L264.3,733.8 L266.6,738.4 L268.9,743.4 L271.2,748.3 L273.4,753.2 L275.4,758.0 L277.4,763.0 L279.4,767.9 L281.2,772.6 L282.9,776.8 L284.5,780.3 L285.8,783.0 L286.9,785.3 L288.0,787.8 L289.0,791.0 L290.1,795.3 L291.2,800.3 L292.3,805.5 L293.2,810.7 L293.9,815.4 L294.3,819.6 L294.5,823.6 L294.6,827.3 L294.5,830.9 L294.1,834.6 L293.6,838.3 L292.9,841.9 L292.0,845.5 L291.0,849.0 L289.7,852.3 L288.1,855.3 L286.3,858.3 L284.2,861.4 L281.9,864.5 L279.5,867.9 L276.9,871.8 L273.9,876.0 L271.0,880.2 L268.5,883.8 L266.7,886.3" fill="none" stroke="#111" stroke-width="1.2"/>
<path d="M44.1,751.2 L44.6,750.3 L45.1,749.2 L45.9,747.7 L46.8,745.8 L47.9,743.7 L49.3,741.1 L50.9,737.9 L52.7,734.5 L54.7,731.0 L56.9,727.8 L59.3,724.7 L62.0,721.9 L64.8,719.1 L67.6,716.4 L70.3,713.8 L72.7,711.3 L75.1,708.8 L77.6,706.4 L80.5,704.0 L84.0,701.4 L88.4,698.8 L93.4,696.0 L98.7,693.3 L104.2,690.7 L109.5,688.5 L114.6,686.6 L119.7,685.0 L124.8,683.7 L129.9,682.5 L135.0,681.5 L140.1,680.6 L145.3,680.0 L150.4,679.5 L155.4,679.2 L160.3,679.0 L165.1,678.8 L169.7,678.9 L174.3,679.0 L178.7,679.2 L183.1,679.6 L187.4,679.9 L191.6,680.4 L195.8,680.9 L200.0,681.5 L204.2,682.3 L208.7,683.2 L213.3,684.2 L218.0,685.3 L222.4,686.5 L226.5,687.9 L230.1,689.3 L233.2,690.8 L236.2,692.4 L239.0,694.2 L241.9,696.3 L245.0,698.6 L248.1,701.1 L251.1,703.8 L254.1,706.7 L256.8,709.8 L259.1,712.9 L261.2,716.2 L263.1,719.5 L264.9,723.1 L267.0,727.0 L269.2,731.4 L271.5,736.1 L273.8,741.1 L276.1,746.1 L278.3,751.0 L280.4,755.9 L282.4,761.0 L284.4,765.9 L286.3,770.6 L287.9,774.7 L289.4,778.0 L290.7,780.6 L291.9,783.1 L293.0,786.0 L294.2,789.5 L295.4,794.0 L296.5,799.1 L297.6,804.5 L298.6,809.9 L299.2,814.8 L299.7,819.2 L299.9,823.4 L300.0,827.3 L299.8,831.3 L299.5,835.2 L298.9,839.2 L298.2,843.1 L297.2,847.0 L296.0,850.8 L294.6,854.5 L292.8,858.0 L290.8,861.3 L288.6,864.5 L286.3,867.7 L283.9,871.0 L281.3,874.8 L278.4,879.1 L275.4,883.3 L272.9,886.9 L271.1,889.4" fill="none" stroke="#111" stroke-width="1"/>
<!-- H5 clamps : origin 180,660 -->
<g transform="translate(180,660) scale(0.12562)" class="ns">
<path class="t" d="M165,168 L165,222 M210,172 L210,228 M255,180 L255,232 M300,188 L300,242 M130,238 L130,290 M175,242 L175,296 M220,248 L220,302 M265,255 L265,310"/>
<path d="M208,224 L252,228 L250,252 L210,248 Z" fill="#111"/>
<path d="M197,312 L245,312 L248,345 Q240,372 220,372 Q198,365 194,340 Z" fill="#111"/>
<ellipse cx="222" cy="322" rx="10" ry="6" fill="#ccc"/>
<path class="t" d="M480,415 L525,385 M495,440 L545,405 M510,465 L560,425 M592,396 Q620,372 652,392 M602,428 Q635,398 670,418"/>
<path d="M553,442 L600,425 L632,450 L612,482 L570,480 Z" fill="#111"/>
<path class="t" d="M588,480 L602,525"/>
</g>
<!-- H7 left fittings : origin 25,715 -->
<g transform="translate(25,715) scale(0.12562)" class="ns">
<path class="w" d="M140,283 L205,298 L200,375 L132,365 Z"/>
<path class="w" d="M132,365 L212,378 L178,502 L85,478 L92,440 Z"/>
<path class="w" d="M95,482 Q68,540 80,600 Q92,632 122,622 L135,590 Q138,540 172,503 Z"/>
<path class="w" d="M108,600 L160,580 L235,590 L252,640 L215,690 L165,702 L118,662 Z" style="stroke-width:1.6"/>
<path class="s" d="M160,580 L165,640 L118,662 M165,640 L215,690 M235,590 L215,640"/>
<path class="w" d="M225,452 L300,418 Q335,420 340,450 L335,485 L255,542 Z"/>
<path class="s" d="M300,418 L310,470 L335,485 M275,430 L285,500"/>
<ellipse class="w" cx="215" cy="497" rx="33" ry="46" transform="rotate(-20 215 497)" style="stroke-width:1.7"/>
<circle class="k" cx="206" cy="506" r="11"/><ellipse class="s" cx="215" cy="497" rx="20" ry="30" transform="rotate(-20 215 497)" style="stroke-width:1.2"/>
<path class="w" d="M240,560 L300,545 L345,560 L350,612 L300,652 L250,636 Z" style="stroke-width:1.6"/>
<path class="s" d="M300,545 L300,600 L250,636 M300,600 L350,612 M330,500 L345,560"/>
<path class="w" d="M268,650 L268,882 L335,882 L340,650 Z"/>
<path class="s" d="M268,690 L340,690 M268,715 L340,715 M268,745 L340,745 M268,800 L340,800 M268,845 L335,845 M268,865 L335,865" style="stroke-width:1.3"/>
<path class="w" d="M340,765 L385,762 Q408,790 396,822 L340,834 Z"/>
<ellipse class="s" cx="388" cy="792" rx="12" ry="28"/>
<path d="M274,882 L274,940 Q305,958 336,940 L336,882 Z" fill="#222" stroke="#111"/>
<path class="t" d="M280,910 L330,910" style="stroke:#ddd"/>
<!-- union -->
<path class="w" d="M582,575 Q615,550 660,570 L662,620 L712,650 L716,690 L690,706 L690,742 L610,782 L572,732 L575,700 L550,682 L552,640 L582,620 Z" style="stroke-width:1.6"/>
<path class="s" d="M582,590 Q620,608 660,588 M582,620 Q620,640 662,620 M552,640 L620,672 L712,650 M620,672 L622,720 L690,706 M575,700 L622,720 L610,782"/>
<ellipse class="s" cx="622" cy="575" rx="30" ry="10"/>
</g>
<!-- H8 bottom fitting : origin 200,830 -->
<g transform="translate(200,830) scale(0.12562)" class="ns">
<path class="w" d="M535,422 L600,482 L585,497 L520,437 Z"/>
<path class="w" d="M520,437 L585,497 L440,617 L390,555 Z" style="stroke-width:1.5"/>
<path class="t" d="M505,460 L408,540"/>
<path class="w" d="M390,555 L372,575 L410,624 L440,617 Z"/>
<path class="w" d="M375,575 Q340,568 318,600 L265,640 Q260,672 290,692 Q320,708 352,690 L396,642 Q412,612 400,600 Z" style="stroke-width:1.7"/>
<path class="s" d="M335,590 Q365,615 360,680 M318,600 Q345,630 340,690 M300,640 Q320,650 318,690"/>
<path class="w" d="M232,560 L262,530 L300,545 L306,582 L272,614 L240,600 Z" style="stroke-width:1.6"/>
<path class="s" d="M262,530 L268,572 L240,600 M268,572 L306,582"/>
<path class="w" d="M152,478 Q165,445 200,440 L270,442 Q296,455 292,482 L262,530 L232,560 L210,520 L175,532 Z" style="stroke-width:1.6"/>
<path class="s" d="M200,440 Q185,480 210,520 M232,500 L262,530"/>
<path class="w" d="M118,516 L172,490 L195,562 L132,590 Z" style="stroke-width:1.5"/>
<ellipse class="w" cx="120" cy="553" rx="24" ry="37" transform="rotate(-15 120 553)" style="stroke-width:1.8"/>
<ellipse class="s" cx="122" cy="553" rx="12" ry="22" transform="rotate(-15 122 553)"/>
<path class="s" d="M155,500 L178,570"/>
</g>
<!-- H3 right fitting : origin 370,670 -->
<g transform="translate(370,670) scale(0.12562)" class="ns">
<path class="w" d="M385,290 L458,266 L488,375 L420,397 Z" style="stroke-width:1.5"/>
<path class="s" d="M392,318 L465,294 M412,372 L482,350"/>
<path class="w" d="M440,392 L468,472 L497,462 L470,384 Z"/>
<path class="w" d="M455,540 Q450,505 480,498 L520,455 L562,466 L625,455 Q656,470 648,502 L520,592 L478,602 Q450,582 455,540Z" style="stroke-width:1.7"/>
<path class="s" d="M480,498 Q520,520 520,592 M505,485 Q545,505 548,572 M562,466 Q590,490 585,545"/>
<ellipse class="s" cx="472" cy="562" rx="18" ry="30" transform="rotate(-20 472 562)" style="stroke-width:1.6"/>
<path class="s" d="M625,455 Q640,480 632,512"/>
</g>
</g>
<!-- VALVE -->
<g id="valve">
<!-- V3 : origin 625,760 (hoses & lower box) -->
<g transform="translate(625,760) scale(0.12562)" class="ns">
<!-- hose 2 (inner, long with U bend) -->
<path class="w" d="M360,-150 L352,190 Q360,240 400,268 L520,340 L700,440 L735,520 Q790,490 782,425 Q770,385 730,372 L560,298 L452,240 Q412,205 412,170 L430,-120 Z" style="stroke-width:1.5"/>
<!-- hose 1 (outer left) -->
<path class="w" d="M258,-170 L250,130 Q255,230 330,310 L432,372 L462,332 L382,272 Q318,215 314,130 L322,-150 Z" style="stroke-width:1.5"/>
<path class="t" d="M255,60 L318,60 M340,285 L372,250"/>
<!-- base plate edge -->
<path class="s" d="M414,195 L724,358 Q759,372 774,405"/>
<!-- fitting 1 -->
<path class="w" d="M435,352 L467,318 L519,332 L545,364 L521,412 L461,422 L435,392 Z" style="stroke-width:1.6"/>
<path class="s" d="M467,318 L465,388 L435,392 M465,388 L521,412"/>
<path class="w" d="M519,340 L571,350 L609,392 L597,438 L551,470 L517,452 L505,412 Z" style="stroke-width:1.6"/>
<path class="s" d="M571,350 L561,408 L551,470 M561,408 L505,412"/>
<path class="w" d="M451,420 L499,405 L529,452 L521,490 L479,508 L444,480 Z" style="stroke-width:1.6"/>
<ellipse class="w" cx="469" cy="466" rx="27" ry="36" transform="rotate(-28 469 466)" style="stroke-width:1.9"/>
<ellipse class="s" cx="467" cy="468" rx="13" ry="20" transform="rotate(-28 467 468)"/>
<path class="s" d="M491,430 L517,470 M501,420 L529,462"/>
<!-- fitting 2 -->
<path class="w" d="M609,470 L654,432 L707,430 L741,462 L737,515 L689,560 L647,545 Z" style="stroke-width:1.6"/>
<path class="s" d="M654,432 L661,500 L689,560 M707,430 L699,490 L661,500 M699,490 L737,515"/>
<path class="w" d="M579,500 L629,478 L661,528 L651,570 L609,585 L574,555 Z" style="stroke-width:1.6"/>
<ellipse class="w" cx="601" cy="540" rx="27" ry="36" transform="rotate(-28 601 540)" style="stroke-width:1.9"/>
<ellipse class="s" cx="599" cy="543" rx="13" ry="20" transform="rotate(-28 599 543)"/>
<path class="s" d="M624,500 L651,545 M635,492 L663,535"/>
<!-- thin pipe -->
<path class="w" d="M-20,-25 L130,50 L250,112 Q300,125 345,110 L480,48 Q530,35 560,60 L575,85 L548,92 Q530,62 490,72 L355,135 Q300,152 240,135 L-30,0 Z" style="stroke-width:1.4"/>
</g>
<!-- lower box : V2 coords origin 680,700 -->
<g transform="translate(680,700) scale(0.12562)" class="ns">
<path class="w" d="M120,590 L238,532 L330,470 L470,500 L528,490 L526,548 L296,786 L125,722 Z" style="stroke-width:1.5"/>
<path class="s" d="M120,590 L290,682 L415,548 M290,682 L296,786"/>
<path class="t" d="M306,692 L428,560"/>
<circle class="w" cx="290" cy="682" r="14" style="stroke-width:1.5"/>
<path d="M132,712 L160,690 L192,706 L188,742 L155,756 L132,738 Z" fill="#111"/><circle cx="160" cy="720" r="9" fill="#999"/>
</g>
<!-- V1 : origin 625,685 -->
<g transform="translate(625,685) scale(0.12562)" class="ns">
<!-- pipe end fitting -->
<path class="w" d="M-5,548 L30,528 L78,555 L70,600 L30,618 L-8,590 Z" style="stroke-width:2"/>
<path class="s" d="M30,528 L22,572 L30,618 M52,540 L44,590 M22,572 L-8,590" style="stroke-width:1.6"/>
<ellipse class="w" cx="-22" cy="560" rx="24" ry="36" transform="rotate(-25 -22 560)" style="stroke-width:2.2"/>
<ellipse class="s" cx="-24" cy="562" rx="10" ry="20" transform="rotate(-25 -24 562)"/>
<path d="M108,612 L172,596 L182,626 L125,654 Z" fill="#222"/>
<!-- upper plate -->
<path class="w" d="M262,352 L555,203 L853,344 Q868,355 863,372 L808,412 L728,462 L668,432 L568,466 L455,418 L440,470 L262,380 Z" style="stroke-width:1.9"/>
<path class="s" d="M455,440 L568,490 L668,456 L728,486 L808,436 L863,395"/>
<path class="t" d="M292,378 L575,225 M305,395 L545,268"/>
<!-- front port face -->
<path class="w" d="M238,388 Q235,358 262,352 L300,362 L442,452 L438,505 Q425,528 395,520 L272,445 Q240,420 238,388 Z" style="stroke-width:2"/>
<ellipse cx="325" cy="447" rx="27" ry="34" transform="rotate(-28 325 447)" fill="#fff" stroke="#111" stroke-width="2.2"/>
<ellipse cx="325" cy="447" rx="11" ry="16" transform="rotate(-28 325 447)" fill="#222"/>
<ellipse cx="392" cy="487" rx="27" ry="34" transform="rotate(-28 392 487)" fill="#fff" stroke="#111" stroke-width="2.2"/>
<ellipse cx="392" cy="487" rx="11" ry="16" transform="rotate(-28 392 487)" fill="#222"/>
<!-- bolts on plate -->
<g>
<ellipse cx="440" cy="367" rx="31" ry="24" fill="#fff" stroke="#111" stroke-width="2.1"/><ellipse cx="441" cy="353" rx="22" ry="17" fill="#fff" stroke="#111" stroke-width="1.7"/><path d="M418,355 L415,373 M464,355 L466,373" fill="none" stroke="#111" stroke-width="1.5"/>
<ellipse cx="478" cy="290" rx="31" ry="24" fill="#fff" stroke="#111" stroke-width="2.1"/><ellipse cx="479" cy="276" rx="22" ry="17" fill="#fff" stroke="#111" stroke-width="1.7"/><path d="M456,278 L453,296 M502,278 L504,296" fill="none" stroke="#111" stroke-width="1.5"/>
<ellipse cx="715" cy="287" rx="31" ry="24" fill="#fff" stroke="#111" stroke-width="2.1"/><ellipse cx="716" cy="273" rx="22" ry="17" fill="#fff" stroke="#111" stroke-width="1.7"/><path d="M693,275 L690,293 M739,275 L741,293" fill="none" stroke="#111" stroke-width="1.5"/>
<ellipse cx="650" cy="437" rx="31" ry="24" fill="#fff" stroke="#111" stroke-width="2.1"/><ellipse cx="651" cy="423" rx="22" ry="17" fill="#fff" stroke="#111" stroke-width="1.7"/><path d="M628,425 L625,443 M674,425 L676,443" fill="none" stroke="#111" stroke-width="1.5"/>
<ellipse cx="752" cy="427" rx="31" ry="24" fill="#fff" stroke="#111" stroke-width="2.1"/><ellipse cx="753" cy="413" rx="22" ry="17" fill="#fff" stroke="#111" stroke-width="1.7"/><path d="M730,415 L727,433 M776,415 L778,433" fill="none" stroke="#111" stroke-width="1.5"/>
<path class="w" d="M382,255 L420,232 L445,248 L440,275 L405,292 L385,280 Z" style="stroke-width:2"/>
<path class="s" d="M382,255 L408,268 L445,248 M408,268 L405,292"/>
<ellipse cx="548" cy="337" rx="40" ry="27" fill="#fff" stroke="#111" stroke-width="2.8"/>
<ellipse class="s" cx="548" cy="342" rx="22" ry="13" style="stroke-width:1.6"/>
</g>
<!-- stem -->
<path d="M50,168 L78,138 L280,240 L255,278 Z" fill="#111"/>
<path class="w" d="M108,228 Q98,262 122,292 L185,324 Q215,324 226,294 L238,245 L165,205 Z" style="stroke-width:2.2"/>
<path class="s" d="M140,218 Q128,255 150,304 M178,232 Q165,270 190,322 M208,242 Q198,280 214,316" style="stroke-width:2.2"/>
<path d="M120,170 L260,238 L250,262 L110,195 Z" fill="#111"/>
<path class="w" d="M258,268 L305,268 L375,300 L362,345 L292,340 L250,312 Z" style="stroke-width:1.6"/>
<path class="s" d="M305,268 L292,340"/>
<!-- struts under plate -->
<path class="s" d="M455,470 L455,520 M470,478 L470,530"/>
<path class="w" d="M500,512 L525,498 L548,510 L545,585 L520,598 L500,585 Z" style="stroke-width:1.5"/>
<path class="s" d="M525,498 L522,598"/>
<!-- coil / solenoid centre -->
<path d="M614,562 Q632,520 680,525 L742,560 Q760,600 730,635 L660,630 Q608,610 614,562Z" fill="#111"/><path d="M660,520 L760,500 L800,540 L745,560" fill="none" stroke="#555" stroke-width="1.2"/>
<path class="s" d="M600,545 Q585,575 610,610" style="stroke-width:1.8"/>
<path class="w" d="M725,572 L775,560 L800,590 L785,630 L740,640 L722,625Z" style="stroke-width:1.5"/>
<path class="s" d="M560,540 L600,560 M730,520 L812,545" />
</g>
<!-- V2 : origin 680,700 -->
<g transform="translate(680,700) scale(0.12562)" class="ns">
<!-- solenoid right -->
<path class="w" d="M378,318 L392,296 L445,282 L500,310 L512,360 L478,395 L405,372 Z" style="stroke-width:1.6"/>
<ellipse cx="472" cy="345" rx="36" ry="46" transform="rotate(-20 472 345)" fill="#111"/>
<ellipse cx="476" cy="350" rx="17" ry="24" transform="rotate(-20 476 350)" fill="none" stroke="#888" stroke-width="1"/>
<!-- wire loop -->
<path class="t" d="M508,348 C565,352 602,400 602,452 C602,500 545,542 470,550"/>
<path class="t" d="M502,366 C552,372 588,410 588,452 C588,495 538,526 462,534"/>
<!-- bracket plate -->
<path class="w" d="M452,475 L520,420 L532,428 L530,492 L470,555 Z" style="stroke-width:1.5"/>
<path d="M405,500 L440,488 L452,512 L440,560 L415,555 Z" fill="#111"/>
<path class="s" d="M300,470 L400,430 L455,470 M330,400 L385,395 L430,440" />
<path class="s" d="M380,400 Q360,420 400,445 L460,455"/>
</g>
</g>
<!-- LEADERS -->
<g id="leaders" class="ld">
<polyline points="467.5,149.5 473,149.5 500.5,183.5"/>
<polyline points="674.5,203 667.5,203 622,234"/>
<polyline points="676.5,270 670.5,270 655,280"/>
<polyline points="395.5,505.7 402.5,505.7 433,515"/>
<polyline points="246.7,647.5 241.2,647.5 230.3,685"/>
<polyline points="689,670.7 694.2,670.7 698,737.5"/>
</g>
<!-- ARROW ICON -->
<g id="arrow">
<rect x="737.7" y="928.8" width="66.4" height="66" fill="#fff" stroke="#111" stroke-width="1.1"/>
<polygon points="755.2,941.4 798.6,939.3 799.3,955.2 793.8,978.9 784.6,974.9 762.8,986.9 742.1,975.2 742.1,959.6 755.6,952.4" fill="#000"/>
<polygon points="760,943.9 795.9,941.4 792.1,962.8 784.6,958.6 762.8,971 745.2,960.7 766.5,948.3" fill="#fff"/>
</g>
</svg>
<!-- LABELS -->
<div class="lbl" style="left:374px;top:116px;width:94px;height:21px;line-height:19px;">33.202.BN 01</div>
<div class="lbl" style="left:374px;top:136px;width:94px;height:21px;line-height:19px;">33.202.BN 02</div>
<div class="lbl" style="left:674px;top:189px;width:94px;height:21px;line-height:19px;">33.202.BN 03</div>
<div class="lbl" style="left:676px;top:255px;width:82px;height:21px;line-height:19px;">33.202.CM</div>
<div class="lbl" style="left:315px;top:491px;width:81px;height:21px;line-height:19px;">33.110.AP</div>
<div class="lbl" style="left:246px;top:633px;width:82px;height:21px;line-height:19px;">33.220.AC</div>
<div class="lbl" style="left:595px;top:637px;width:94px;height:20px;line-height:18px;">33.110.AT 01</div>
<div class="lbl" style="left:595px;top:656px;width:94px;height:21px;line-height:19px;">33.110.BJ 01</div>
</body>
</html>
